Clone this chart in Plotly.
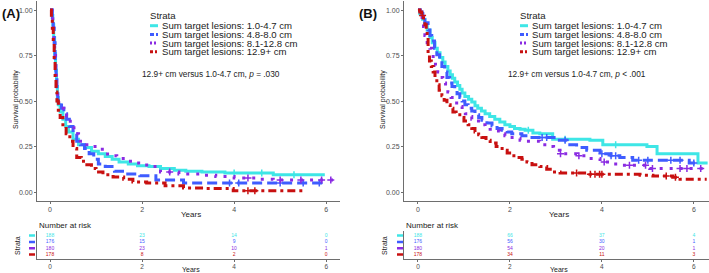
import plotly.graph_objects as go

W, H = 709, 273

names = ["Sum target lesions: 1.0-4.7 cm", "Sum target lesions: 4.8-8.0 cm",
         "Sum target lesions: 8.1-12.8 cm", "Sum target lesions: 12.9+ cm"]
colors = ["#3EE6E6", "#3F5CFF", "#8A2BE2", "#C81010"]
dashes = ["solid", "10px,5px", "3px,7px", "8px,4px,3px,4px"]

# ---------------- Panel A: KM steps (time, survival) ----------------
a_t = [
    [0, 0.04, 0.06, 0.08, 0.10, 0.12, 0.14, 0.16, 0.18, 0.22, 0.28, 0.34, 0.40, 0.50, 0.62, 0.75, 0.9, 1.05, 1.2, 1.35, 1.5, 1.7, 1.9, 2.15, 2.4, 2.7, 2.95, 3.3, 3.8, 4.3, 4.85, 5.97],
    [0, 0.05, 0.07, 0.09, 0.11, 0.13, 0.15, 0.17, 0.2, 0.25, 0.3, 0.36, 0.42, 0.5, 0.58, 0.66, 0.75, 0.85, 0.95, 1.05, 1.2, 1.4, 1.65, 1.95, 2.3, 2.6, 2.9, 3.5, 5.94],
    [0, 0.04, 0.06, 0.08, 0.10, 0.12, 0.14, 0.16, 0.19, 0.24, 0.3, 0.36, 0.44, 0.52, 0.62, 0.75, 0.9, 1.05, 1.25, 1.45, 1.65, 1.85, 2.1, 2.4, 2.8, 3.25, 3.6, 4.0, 4.5, 4.85, 6.16],
    [0, 0.03, 0.05, 0.07, 0.09, 0.11, 0.13, 0.15, 0.18, 0.22, 0.28, 0.35, 0.43, 0.5, 0.58, 0.68, 0.8, 0.9, 1.0, 1.15, 1.37, 1.6, 1.8, 2.1, 2.5, 2.9, 3.4, 3.98, 4.5, 5.5],
]
a_s = [
    [1.0, 0.97, 0.92, 0.85, 0.76, 0.67, 0.58, 0.52, 0.48, 0.44, 0.40, 0.36, 0.33, 0.29, 0.26, 0.245, 0.225, 0.21, 0.195, 0.18, 0.165, 0.155, 0.145, 0.14, 0.13, 0.12, 0.115, 0.11, 0.105, 0.105, 0.095, 0.095],
    [1.0, 0.96, 0.9, 0.82, 0.72, 0.63, 0.55, 0.5, 0.49, 0.46, 0.43, 0.40, 0.36, 0.32, 0.28, 0.26, 0.24, 0.21, 0.18, 0.155, 0.14, 0.115, 0.1, 0.09, 0.066, 0.066, 0.05, 0.05, 0.05],
    [1.0, 0.97, 0.92, 0.84, 0.75, 0.66, 0.58, 0.52, 0.49, 0.46, 0.44, 0.42, 0.37, 0.32, 0.28, 0.26, 0.25, 0.235, 0.2, 0.185, 0.17, 0.16, 0.14, 0.11, 0.1, 0.093, 0.085, 0.078, 0.07, 0.066, 0.066],
    [1.0, 0.96, 0.9, 0.82, 0.72, 0.62, 0.55, 0.5, 0.45, 0.41, 0.37, 0.32, 0.28, 0.24, 0.19, 0.17, 0.15, 0.13, 0.11, 0.095, 0.083, 0.07, 0.055, 0.05, 0.035, 0.022, 0.02, 0.007, 0.007, 0.007],
]
a_cens = [
    [4.0, 4.6, 5.3],
    [3.9, 4.1, 5.0, 5.5, 5.85],
    [2.6, 4.3, 5.0, 5.45, 5.9, 6.1],
    [4.3, 4.45],
]
a_risk = [[188, 23, 14, 0], [176, 15, 9, 0], [180, 23, 10, 1], [178, 8, 2, 0]]

# ---------------- Panel B: KM steps (time, survival) ----------------
b_cyan = [(0, 1.0), (0.04, 0.98), (0.1, 0.95), (0.15, 0.92), (0.2, 0.89), (0.26, 0.85), (0.31, 0.82),
          (0.37, 0.79), (0.42, 0.765), (0.48, 0.74), (0.54, 0.715), (0.59, 0.69), (0.65, 0.665), (0.7, 0.645),
          (0.75, 0.625), (0.8, 0.605), (0.86, 0.585), (0.91, 0.565), (0.96, 0.545), (1.02, 0.525), (1.1, 0.51),
          (1.17, 0.495), (1.24, 0.475), (1.3, 0.46), (1.38, 0.445), (1.46, 0.43), (1.56, 0.415), (1.67, 0.40),
          (1.78, 0.385), (1.89, 0.37), (2.0, 0.36), (2.1, 0.35), (2.22, 0.345), (2.33, 0.34), (2.5, 0.325),
          (2.65, 0.32), (2.93, 0.29), (3.74, 0.285), (4.02, 0.26), (4.98, 0.25), (5.2, 0.21), (6.02, 0.21),
          (6.09, 0.16), (6.3, 0.16)]
b_blue = [(0, 1.0), (0.05, 0.99), (0.09, 0.98), (0.15, 0.93), (0.22, 0.89), (0.26, 0.86), (0.3, 0.83),
          (0.36, 0.79), (0.41, 0.755), (0.47, 0.72), (0.52, 0.69), (0.58, 0.66), (0.63, 0.63), (0.69, 0.60),
          (0.74, 0.58), (0.8, 0.56), (0.85, 0.54), (0.91, 0.52), (0.96, 0.50), (1.02, 0.48), (1.09, 0.46),
          (1.17, 0.445), (1.24, 0.425), (1.32, 0.41), (1.39, 0.395), (1.5, 0.38), (1.61, 0.365), (1.72, 0.35),
          (1.83, 0.34), (1.94, 0.33), (2.04, 0.32), (2.26, 0.31), (2.48, 0.30), (3.02, 0.285), (3.24, 0.26),
          (3.45, 0.245), (3.67, 0.23), (3.96, 0.21), (4.2, 0.2), (4.39, 0.19), (4.67, 0.175), (5.9, 0.16),
          (6.1, 0.16)]
b_purple = [(0, 1.0), (0.04, 0.98), (0.09, 0.96), (0.12, 0.91), (0.15, 0.86), (0.2, 0.82), (0.26, 0.79),
            (0.3, 0.76), (0.33, 0.73), (0.38, 0.695), (0.43, 0.66), (0.48, 0.63), (0.54, 0.60), (0.6, 0.575),
            (0.65, 0.55), (0.72, 0.52), (0.8, 0.49), (0.88, 0.47), (0.96, 0.45), (1.03, 0.43), (1.09, 0.415),
            (1.17, 0.40), (1.24, 0.39), (1.35, 0.37), (1.46, 0.355), (1.57, 0.345), (1.67, 0.335), (1.78, 0.32),
            (1.89, 0.31), (2.0, 0.30), (2.1, 0.295), (2.22, 0.285), (2.33, 0.28), (2.65, 0.26), (2.8, 0.25),
            (2.95, 0.23), (3.09, 0.21), (3.46, 0.20), (3.7, 0.185), (3.96, 0.165), (4.2, 0.155), (4.39, 0.148),
            (5.04, 0.13), (6.28, 0.13)]
b_red = [(0, 1.0), (0.04, 0.99), (0.08, 0.97), (0.12, 0.94), (0.15, 0.92), (0.18, 0.89), (0.2, 0.85),
         (0.22, 0.75), (0.25, 0.72), (0.29, 0.69), (0.33, 0.66), (0.37, 0.625), (0.41, 0.59), (0.46, 0.56),
         (0.52, 0.53), (0.57, 0.505), (0.63, 0.48), (0.7, 0.46), (0.76, 0.44), (0.83, 0.425), (0.91, 0.41),
         (1.0, 0.39), (1.09, 0.37), (1.17, 0.35), (1.24, 0.33), (1.32, 0.315), (1.39, 0.30), (1.48, 0.285),
         (1.57, 0.27), (1.7, 0.25), (1.83, 0.23), (1.94, 0.215), (2.04, 0.20), (2.15, 0.19), (2.26, 0.18),
         (2.37, 0.165), (2.48, 0.15), (2.65, 0.14), (2.8, 0.125), (2.93, 0.11), (3.09, 0.105), (3.74, 0.098),
         (4.83, 0.093), (5.11, 0.088), (5.54, 0.082), (5.7, 0.07), (6.28, 0.07)]
b_curves = [b_cyan, b_blue, b_purple, b_red]
b_t = [[t for t, s in c] for c in b_curves]
b_s = [[s for t, s in c] for c in b_curves]
b_cens = [
    [2.4, 3.2, 4.3],
    [2.7, 2.8, 3.2, 4.0, 4.2, 4.3, 4.8, 5.0, 5.5, 5.7, 6.0],
    [3.1, 3.5, 4.05, 4.6, 4.95, 5.1, 5.7, 5.85, 6.15],
    [0.1, 3.45, 3.75, 3.85, 3.95, 4.0, 5.4, 5.6],
]
b_risk = [[188, 66, 37, 4], [176, 56, 30, 1], [180, 54, 20, 1], [178, 34, 11, 3]]

risk_times = [0, 2, 4, 6]
x_ticks = [0, 2, 4, 6]
y_ticks = [0, 0.25, 0.5, 0.75, 1.0]
y_ticklabels = ["0.00", "0.25", "0.50", "0.75", "1.00"]

def px(x):
    return x / W

def py(y):
    return 1 - y / H

def step_val(ts, ss, t):
    v = ss[0]
    for ti, si in zip(ts, ss):
        if ti <= t:
            v = si
    return v

fig = go.Figure()

panels = [
    dict(ts=a_t, ss=a_s, cens=a_cens, risk=a_risk, xa="x", ya="y", xr="x2", yr="y2",
         left=37, right=340, xrange=[-0.283, 6.30], label="(A)", labx=0,
         legx=148, annx=211, pval="= .030", riskmark=29),
    dict(ts=b_t, ss=b_s, cens=b_cens, risk=b_risk, xa="x3", ya="y3", xr="x4", yr="y4",
         left=404, right=709, xrange=[-0.304, 6.33], label="(B)", labx=357,
         legx=518, annx=577, pval="< .001", riskmark=397),
]

annotations = []
shapes = []
base_font = "Liberation Sans, Arial, sans-serif"
axis_font = dict(family=base_font, size=7, color="#4d4d4d")

for p in panels:
    for i in range(4):
        fig.add_trace(go.Scatter(x=p["ts"][i], y=p["ss"][i], mode="lines", line_shape="hv",
                                 line=dict(color=colors[i], width=3, dash=dashes[i]),
                                 xaxis=p["xa"], yaxis=p["ya"], showlegend=False, hoverinfo="skip"))
        cy = [step_val(p["ts"][i], p["ss"][i], t) for t in p["cens"][i]]
        fig.add_trace(go.Scatter(x=p["cens"][i], y=cy, mode="markers",
                                 marker=dict(symbol="cross-thin", size=5, line=dict(color=colors[i], width=1.5)),
                                 xaxis=p["xa"], yaxis=p["ya"], showlegend=False, hoverinfo="skip"))
        fig.add_trace(go.Scatter(x=risk_times, y=[4 - i] * 4, mode="text",
                                 text=[str(v) for v in p["risk"][i]],
                                 textfont=dict(family=base_font, size=5, color=colors[i]),
                                 xaxis=p["xr"], yaxis=p["yr"], showlegend=False, hoverinfo="skip"))
        shapes.append(dict(type="line", xref="paper", yref=p["yr"], x0=px(p["riskmark"]), x1=px(p["riskmark"] + 6),
                           y0=4 - i, y1=4 - i, line=dict(color=colors[i], width=2.5)))
        ly = 25.7 + i * 8.7
        shapes.append(dict(type="line", xref="paper", yref="paper", x0=px(p["legx"] + 2), x1=px(p["legx"] + 10),
                           y0=py(ly), y1=py(ly),
                           line=dict(color=colors[i], width=3, dash=["solid", "4px,2px", "2px,2px", "3px,2px,2px,2px"][i])))
        annotations.append(dict(xref="paper", yref="paper", x=px(p["legx"] + 12), y=py(ly), text=names[i],
                                showarrow=False, xanchor="left", yanchor="middle",
                                font=dict(family=base_font, size=9.6, color="#222")))
    annotations.append(dict(xref="paper", yref="paper", x=px(p["legx"]), y=py(15), text="Strata",
                            showarrow=False, xanchor="left", yanchor="middle",
                            font=dict(family=base_font, size=9.6, color="#222")))
    annotations.append(dict(xref="paper", yref="paper", x=px(p["annx"]), y=py(74),
                            text="12.9+ cm versus 1.0-4.7 cm, <i>p</i> " + p["pval"],
                            showarrow=False, xanchor="center", yanchor="middle",
                            font=dict(family=base_font, size=8.3, color="#222")))
    annotations.append(dict(xref="paper", yref="paper", x=px(p["labx"]), y=py(13), text="<b>" + p["label"] + "</b>",
                            showarrow=False, xanchor="left", yanchor="middle",
                            font=dict(family=base_font, size=13, color="#111")))
    annotations.append(dict(xref="paper", yref="paper", x=px(p["left"] - 21), y=py(100), text="Survival probability",
                            showarrow=False, textangle=-90, xanchor="center", yanchor="middle",
                            font=dict(family=base_font, size=7, color="#222")))
    annotations.append(dict(xref="paper", yref="paper", x=px((p["left"] + 13 + p["right"]) / 2 - 4), y=py(214), text="Years",
                            showarrow=False, xanchor="center", yanchor="middle",
                            font=dict(family=base_font, size=8, color="#222")))
    annotations.append(dict(xref="paper", yref="paper", x=px(p["left"]), y=py(225), text="Number at risk",
                            showarrow=False, xanchor="left", yanchor="middle",
                            font=dict(family=base_font, size=8, color="#222")))
    annotations.append(dict(xref="paper", yref="paper", x=px(p["left"] - 20), y=py(246), text="Strata",
                            showarrow=False, textangle=-90, xanchor="center", yanchor="middle",
                            font=dict(family=base_font, size=7, color="#222")))
    annotations.append(dict(xref="paper", yref="paper", x=px((p["left"] + 13 + p["right"]) / 2 - 4), y=py(269.5), text="Years",
                            showarrow=False, xanchor="center", yanchor="middle",
                            font=dict(family=base_font, size=7, color="#222")))

axis_common = dict(showgrid=False, zeroline=False, showline=True, linecolor="#6e6e6e", linewidth=1,
                   ticks="outside", ticklen=2, tickcolor="#6e6e6e", tickfont=axis_font)

for p, (xk, yk, xrk, yrk) in zip(panels, [("xaxis", "yaxis", "xaxis2", "yaxis2"), ("xaxis3", "yaxis3", "xaxis4", "yaxis4")]):
    dom_x = [px(p["left"]), px(p["right"])]
    fig.update_layout(**{
        xk: dict(axis_common, domain=dom_x, range=p["xrange"], tickvals=x_ticks, anchor=p["ya"]),
        yk: dict(axis_common, domain=[py(201), py(1)], range=[-0.049, 1.050], tickvals=y_ticks,
                 ticktext=y_ticklabels, anchor=p["xa"]),
        xrk: dict(axis_common, domain=dom_x, range=p["xrange"], tickvals=x_ticks, anchor=p["yr"],
                  tickfont=dict(axis_font, size=6.5)),
        yrk: dict(axis_common, domain=[py(258.5), py(231)], range=[0.38, 4.73], showticklabels=False,
                  ticks="", anchor=p["xr"]),
    })

fig.update_layout(width=W, height=H, margin=dict(l=0, r=0, t=0, b=0),
                  paper_bgcolor="white", plot_bgcolor="white",
                  annotations=annotations, shapes=shapes, showlegend=False)

fig.write_html("out.html")
